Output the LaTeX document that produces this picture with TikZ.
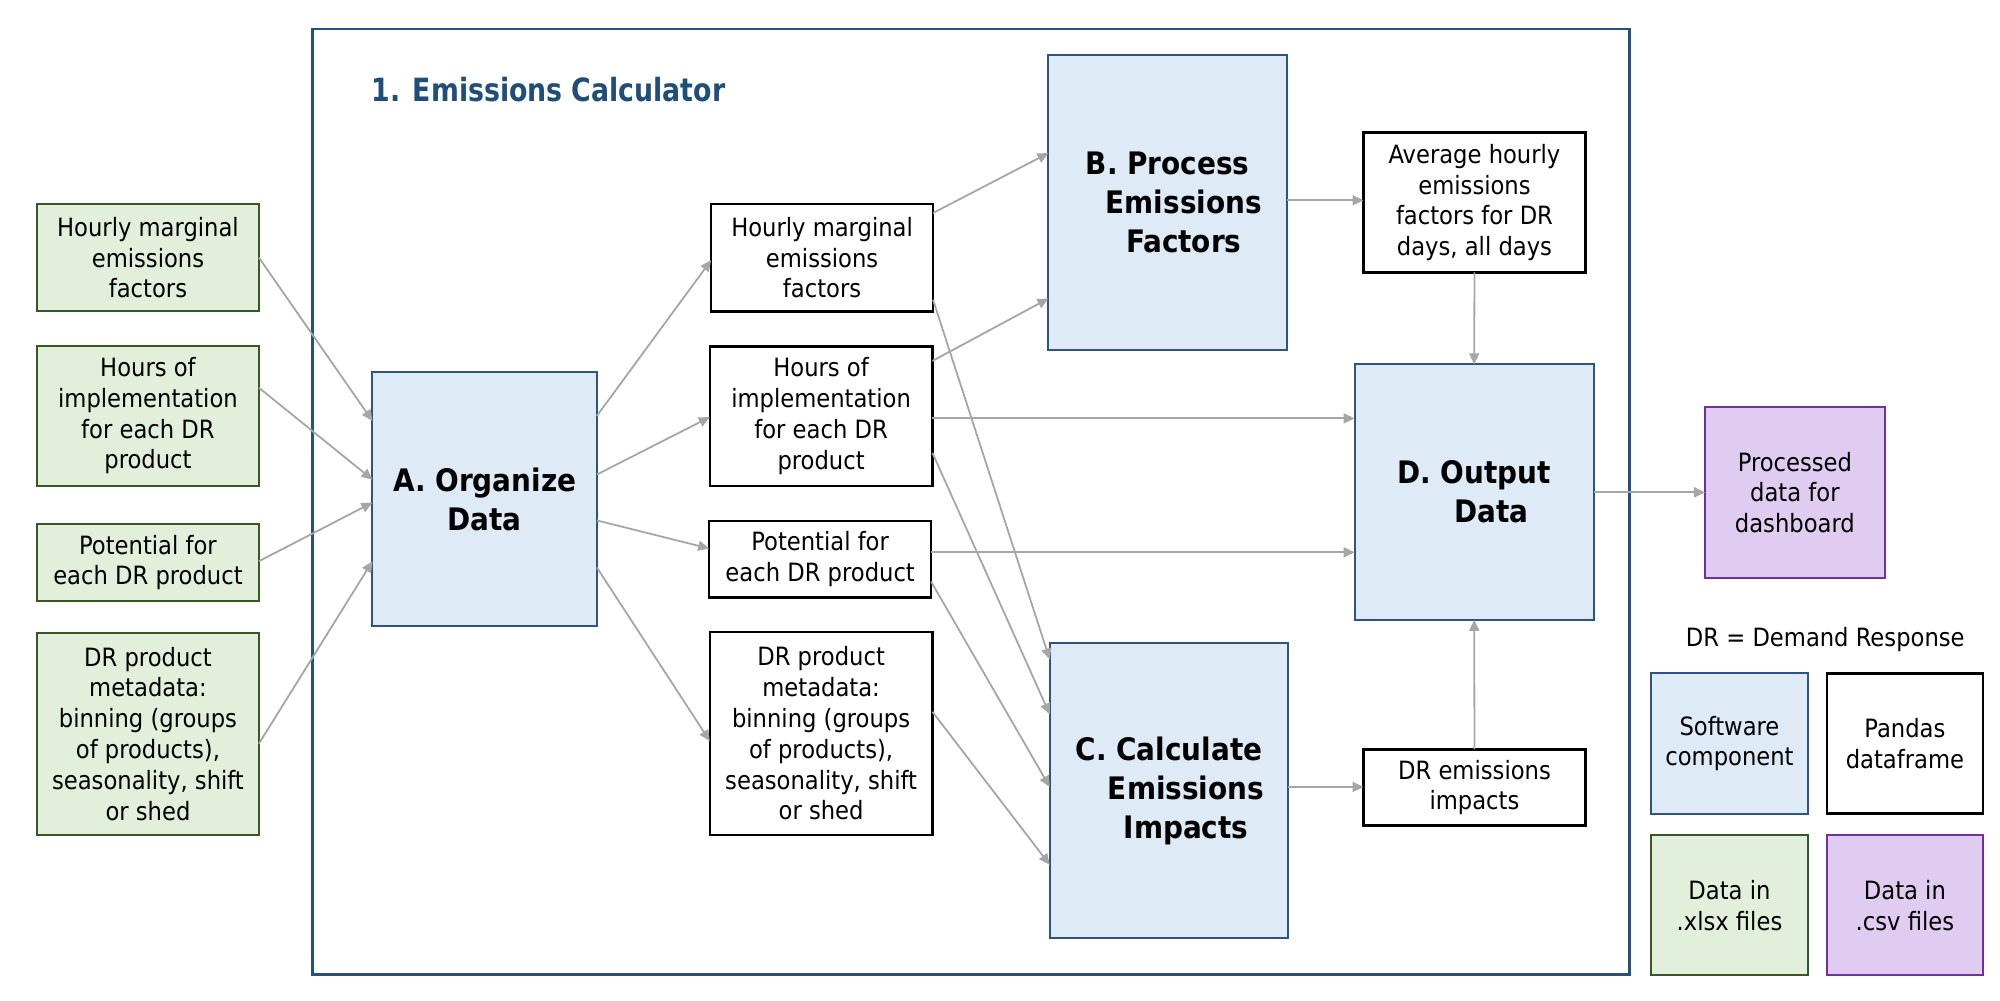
\documentclass[tikz,border=0pt]{standalone}
\usepackage{fontspec}
\setmainfont{DejaVu Sans Condensed}
\newfontfamily\titlefont[FakeStretch=0.93]{DejaVu Sans Condensed}
\usetikzlibrary{arrows.meta}
\definecolor{frameblue}{RGB}{37,80,128}
\definecolor{titleblue}{RGB}{31,78,121}
\definecolor{bluefill}{RGB}{222,234,246}
\definecolor{blueline}{RGB}{46,84,134}
\definecolor{greenfill}{RGB}{226,239,218}
\definecolor{greenline}{RGB}{56,87,35}
\definecolor{purplefill}{RGB}{224,204,240}
\definecolor{purpleline}{RGB}{112,48,160}
\definecolor{arrgray}{RGB}{166,166,166}
\newcommand\bx[7]{\node[#2, minimum width={(#5-#3)*0.6378pt}, minimum height={(#6-#4)*0.6378pt}] (#1) at ({(#3+#5)/2},{(#4+#6)/2}) {#7};}
\tikzset{
  base/.style={inner sep=0pt, outer sep=0pt, align=center, font=\fontsize{12.6}{15.4}\selectfont},
  greenbox/.style={base, draw=greenline, fill=greenfill, line width=1pt},
  whitebox/.style={base, draw=black, fill=white, line width=1.3pt},
  softbox/.style={base, draw=blueline, fill=bluefill, line width=1pt, font=\fontsize{15.5}{19.5}\selectfont\bfseries},
  legsoft/.style={base, draw=blueline, fill=bluefill, line width=1pt},
  purplebox/.style={base, draw=purpleline, fill=purplefill, line width=1pt},
  arr/.style={draw=arrgray, line width=0.9pt, -{Triangle[length=5.5pt,width=5pt]}},
}
\begin{document}
\begin{tikzpicture}[x=0.6378pt, y=-0.6378pt]
\useasboundingbox (0,0) rectangle (1568,784);
% frame
\node[draw=frameblue, line width=1.1pt, inner sep=0pt, minimum width={(1277.5-245)*0.6378pt}, minimum height={(764-23)*0.6378pt}] (frame) at ({(245+1277.5)/2},{(23+764)/2}) {};
\node[anchor=west, inner sep=0pt, text=titleblue, font=\titlefont\fontsize{16}{20}\selectfont\bfseries] (title) at (291,70.5) {1. Emissions Calculator};
% input boxes
\bx{G1}{greenbox}{29}{160}{203}{244}{Hourly marginal\\emissions\\factors}
\bx{G2}{greenbox}{29}{271}{203}{381}{Hours of\\implementation\\for each DR\\product}
\bx{G3}{greenbox}{29}{411}{203}{471}{Potential for\\each DR product}
\bx{G4}{greenbox}{29}{496}{203}{654.5}{DR product\\metadata:\\binning (groups\\of products),\\seasonality, shift\\or shed}
% software components
\bx{A}{softbox}{292}{292}{468}{491}{A. Organize\\Data}
\bx{B}{softbox}{822}{43}{1009}{274.7}{B. Process\\\hspace*{16pt}Emissions\\\hspace*{16pt}Factors}
\bx{C}{softbox}{823}{504}{1010}{735.5}{C. Calculate\\\hspace*{17pt}Emissions\\\hspace*{17pt}Impacts}
\bx{D}{softbox}{1062}{285.6}{1249.5}{486}{D. Output\\\hspace*{17pt}Data}
% dataframes
\bx{W1}{whitebox}{557.5}{160}{731.5}{244}{Hourly marginal\\emissions\\factors}
\bx{W2}{whitebox}{556.5}{271.5}{731}{381}{Hours of\\implementation\\for each DR\\product}
\bx{W3}{whitebox}{556}{408.5}{730}{468.5}{Potential for\\each DR product}
\bx{W4}{whitebox}{556.5}{495.5}{731}{654.5}{DR product\\metadata:\\binning (groups\\of products),\\seasonality, shift\\or shed}
\bx{Avg}{whitebox}{1069}{104}{1243}{213.5}{Average hourly\\emissions\\factors for DR\\days, all days}
\bx{DRem}{whitebox}{1069}{587.5}{1243}{647.3}{DR emissions\\impacts}
% output
\bx{P}{purplebox}{1336.7}{319}{1477.7}{453.2}{Processed\\data for\\dashboard}
% legend
\node[base] (drnote) at (1431,501.6) {DR = Demand Response};
\bx{L1}{legsoft}{1294.3}{528}{1417.5}{638}{Software\\component}
\bx{L2}{whitebox}{1432.2}{528}{1554.7}{638}{Pandas\\dataframe}
\bx{L3}{greenbox}{1294.3}{654.7}{1417.5}{764.7}{Data in\\.xlsx files}
\bx{L4}{purplebox}{1432.2}{654.7}{1554.7}{764.7}{Data in\\.csv files}
% connectors
\draw[arr] (G1.east) -- (A.west |- 0,330);
\draw[arr] (G2.east |- 0,304) -- (A.west |- 0,376);
\draw[arr] (G3.east |- 0,440) -- (A.west |- 0,394);
\draw[arr] (G4.east |- 0,583) -- (A.west |- 0,440);
\draw[arr] (A.east |- 0,326) -- (W1.west |- 0,204);
\draw[arr] (A.east |- 0,372) -- (W2.west |- 0,327);
\draw[arr] (A.east |- 0,408) -- (W3.west |- 0,430);
\draw[arr] (A.east |- 0,445) -- (W4.west |- 0,581);
\draw[arr] (W1.east |- 0,167) -- (B.west |- 0,120);
\draw[arr] (W1.east |- 0,235) -- (C.west |- 0,517);
\draw[arr] (W2.east |- 0,283) -- (B.west |- 0,234);
\draw[arr] (W2.east |- 0,328) -- (D.west |- 0,328);
\draw[arr] (W2.east |- 0,355) -- (C.west |- 0,560);
\draw[arr] (W3.east |- 0,433) -- (D.west |- 0,433);
\draw[arr] (W3.east |- 0,456) -- (C.west |- 0,617);
\draw[arr] (W4.east |- 0,558) -- (C.west |- 0,678);
\draw[arr] (B.east |- 0,157) -- (Avg.west |- 0,157);
\draw[arr] (Avg.south) -- (D.north);
\draw[arr] (C.east |- 0,617) -- (DRem.west |- 0,617);
\draw[arr] (DRem.north) -- (D.south);
\draw[arr] (D.east |- 0,386) -- (P.west |- 0,386);
\end{tikzpicture}
\end{document}
